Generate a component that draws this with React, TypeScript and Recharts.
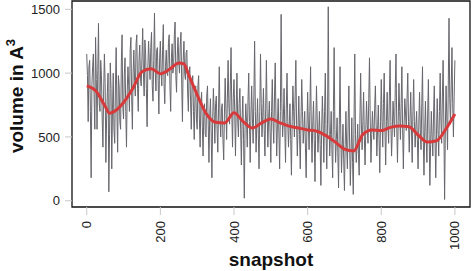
import { LineChart, Line, XAxis, YAxis, ReferenceArea } from "recharts"

const SNAP_STEP = 2

// raw volume per sampled snapshot (every 2nd snapshot, 0..1000)
const volume = [
    1150, 980, 620, 1050, 1100, 700, 180, 900, 1050, 1150, 820, 560, 1280, 950, 560, 1020, 1390, 760, 700, 1100, 980, 640, 420, 860, 1150,
    920, 300, 640, 850, 1000, 70, 520, 1080, 880, 250, 720, 1000, 560, 450, 900, 1200, 700, 380, 980, 900, 620, 560, 1080, 1300, 740,
    640, 980, 1120, 700, 420, 860, 1050, 900, 700, 1180, 1280, 820, 560, 1000, 1180, 940, 820, 1230, 1300, 880, 700, 1100, 1220, 960, 900,
    1120, 1350, 1000, 820, 1260, 1150, 880, 580, 1040, 1250, 1080, 950, 1200, 1320, 900, 780, 1100, 1470, 1020, 860, 1180, 1200, 940, 680, 1120,
    1250, 1000, 900, 1180, 1380, 920, 760, 1050, 1180, 1000, 980, 1240, 1300, 900, 700, 1120, 1230, 1000, 1050, 1300, 1400, 980, 850, 1150, 1280,
    1080, 1000, 1220, 1320, 920, 620, 1100, 1250, 1000, 950, 1160, 1180, 860, 700, 1000, 1050, 780, 560, 900, 980, 700, 480, 820, 900, 640,
    560, 900, 980, 640, 420, 760, 850, 580, 350, 700, 760, 520, 500, 820, 900, 600, 300, 660, 800, 540, 180, 620, 880, 700, 450,
    760, 820, 560, 380, 720, 1050, 640, 500, 720, 760, 480, 320, 680, 960, 720, 480, 800, 1100, 760, 600, 900, 1200, 700, 420, 800,
    950, 700, 350, 720, 1000, 640, 500, 760, 880, 560, 280, 640, 820, 480, 20, 560, 760, 620, 420, 780, 1000, 620, 300, 680, 900,
    640, 450, 820, 1250, 700, 380, 600, 800, 520, 250, 700, 1150, 760, 500, 660, 880, 560, 350, 720, 1100, 680, 420, 640, 780, 540,
    300, 700, 950, 620, 450, 820, 1080, 640, 350, 600, 800, 520, 250, 700, 1460, 760, 500, 640, 880, 560, 300, 720, 1000, 620, 420,
    600, 760, 480, 200, 620, 900, 700, 500, 820, 1100, 600, 350, 580, 820, 520, 250, 640, 950, 700, 450, 560, 700, 420, 180, 560,
    850, 600, 400, 700, 1050, 560, 300, 620, 780, 480, 150, 560, 900, 640, 380, 520, 700, 440, 120, 540, 820, 600, 300, 700, 1000,
    520, 250, 600, 1520, 640, 350, 520, 700, 400, 180, 700, 1200, 560, 300, 480, 650, 380, 100, 600, 1050, 520, 220, 420, 600, 320,
    80, 440, 700, 420, 250, 600, 900, 460, 120, 380, 650, 300, 50, 620, 1150, 520, 300, 420, 600, 360, 200, 640, 1000, 600, 400,
    620, 850, 500, 280, 560, 780, 600, 450, 800, 1120, 640, 300, 520, 700, 560, 480, 720, 900, 600, 350, 560, 750, 480, 220, 620,
    950, 640, 420, 760, 1000, 560, 280, 620, 850, 600, 450, 820, 1100, 620, 350, 560, 780, 640, 500, 880, 1150, 600, 300, 620, 920,
    700, 480, 760, 1050, 560, 250, 600, 800, 680, 550, 800, 1000, 620, 380, 640, 850, 560, 300, 700, 950, 620, 420, 580, 700, 480,
    250, 600, 850, 560, 400, 760, 1050, 500, 200, 540, 780, 480, 300, 680, 950, 520, 120, 440, 700, 500, 350, 680, 900, 480, 180,
    520, 800, 560, 350, 700, 1000, 640, 450, 820, 1100, 600, 10, 560, 900, 640, 400, 900, 1430, 800, 600, 900, 1200, 760, 500, 820,
    1100,
]

// smoothed trend (red curve)
const trendSnap = [0, 25, 50, 62, 75, 100, 125, 150, 175, 200, 225, 250, 265, 275, 300, 325, 350, 375, 400, 425, 450, 475, 500, 525, 550,
    575, 600, 625, 650, 675, 700, 725, 750, 775, 800, 825, 850, 875, 900, 925, 950, 975, 1000]
const trendVal = [900, 860, 740, 686, 700, 770, 880, 1010, 1035, 995, 1030, 1080, 1070, 1000, 830, 680, 615, 610, 690, 620, 570, 610, 640, 610, 585,
    570, 555, 545, 510, 460, 405, 390, 520, 555, 550, 575, 585, 580, 515, 460, 470, 560, 680]

const xTicks = [0, 200, 400, 600, 800, 1000]
const yTicks = [0, 500, 1000, 1500]

const rawData = volume.map((v, i) => ({ snap: i * SNAP_STEP, v }))
const trendData = trendSnap.map((s, i) => ({ snap: s, v: trendVal[i] }))

const FONT = "'Liberation Sans', Arial, sans-serif"

function XTick({ x, y, payload }: any) {
    return (
        <text x={x} y={y} dy="0.35em" textAnchor="end" fontSize={13} fill="#222" fontFamily={FONT}
            transform={`rotate(-90, ${x}, ${y})`}>
            {payload.value}
        </text>
    )
}

export default function App() {
    return (
        <div style={{ position: "absolute", left: 0, top: 0, background: "#fff" }}>
            <LineChart width={473} height={271} margin={{ top: 1, right: 3, left: 0, bottom: 0 }}>
                <XAxis dataKey="snap" type="number" domain={[-40, 1041]} ticks={xTicks} allowDuplicatedCategory={false}
                    axisLine={false} tickSize={8} tickMargin={6} tickLine={{ stroke: "#c8c8c8" }} height={64}
                    tick={<XTick />} />
                <YAxis type="number" domain={[-49, 1565]} ticks={yTicks} width={72}
                    axisLine={false} tickSize={7} tickMargin={5} tickLine={{ stroke: "#c8c8c8" }}
                    tick={{ fontSize: 13, fill: "#222", fontFamily: FONT }} />
                <Line data={rawData} dataKey="v" type="linear" stroke="#66666c" strokeWidth={1} dot={false}
                    isAnimationActive={false} />
                <Line data={trendData} dataKey="v" type="monotone" stroke="#d8393a" strokeWidth={3} dot={false}
                    isAnimationActive={false} />
                <ReferenceArea x1={-40} x2={1041} y1={-49} y2={1565} fill="none" stroke="#111" strokeWidth={1.3}
                    ifOverflow="visible" />
            </LineChart>
            <svg width={473} height={271} style={{ position: "absolute", left: 0, top: 0, pointerEvents: "none" }}>
                <text x={271} y={266} textAnchor="middle" fontSize={19} fontWeight="bold" fontFamily={FONT} fill="#111">
                    snapshot
                </text>
                <text transform="translate(23, 96) rotate(-90)" textAnchor="middle" fontSize={19} fontWeight="bold"
                    fontFamily={FONT} fill="#111">
                    volume in A<tspan dy={-8} fontSize={13}>3</tspan>
                </text>
            </svg>
        </div>
    )
}
